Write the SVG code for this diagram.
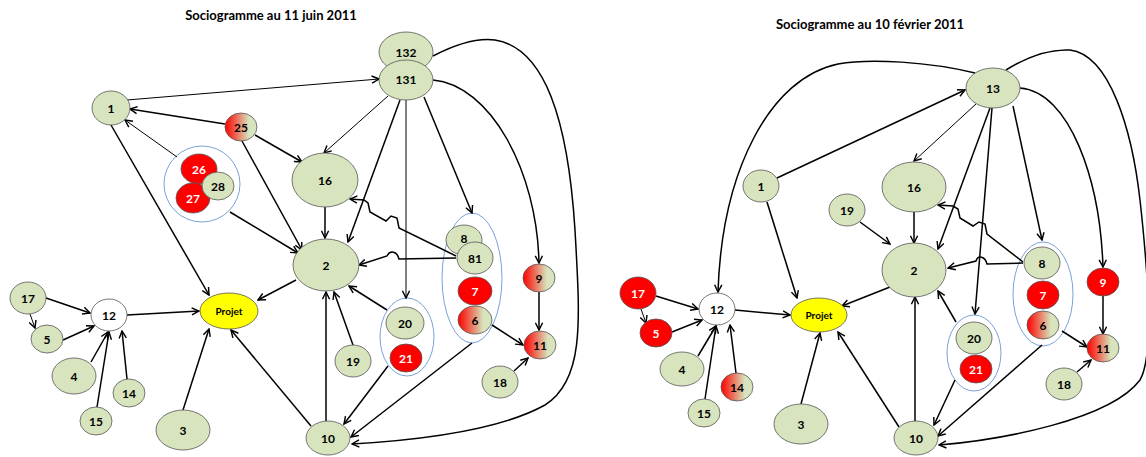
<svg xmlns="http://www.w3.org/2000/svg" width="1146" height="457" viewBox="0 0 1146 457">
<style>
.bg{fill:#fff}
.title{font-family:Lato,"Liberation Sans",sans-serif;font-weight:bold;font-size:13px;fill:#000;text-anchor:middle}
.nd{stroke:#555;stroke-width:0.8}
.gr{fill:#d7e4bd}
.rd{fill:#ff0000}
.gd{fill:url(#grad)}
.wh{fill:#fff}
.ye{fill:#ffff00}
.lb{font-family:Lato,"Liberation Sans",sans-serif;font-weight:bold;font-size:12px;fill:#000;text-anchor:middle;dominant-baseline:central}
.lw{fill:#fff}
.grp{fill:none;stroke:#6a96d4;stroke-width:0.9}
.e{fill:none;stroke:#000;stroke-width:1.5;marker-end:url(#arr)}
.t1{stroke-width:1}
</style>
<defs>
<linearGradient id="grad" x1="0" y1="0" x2="1" y2="0">
<stop offset="0" stop-color="#ff0000"/>
<stop offset="0.2" stop-color="#f43a2e"/>
<stop offset="0.75" stop-color="#d7e4bd"/>
<stop offset="1" stop-color="#d7e4bd"/>
</linearGradient>
<marker id="arr" viewBox="0 0 10 10" refX="9" refY="5" markerWidth="9" markerHeight="9" markerUnits="userSpaceOnUse" orient="auto">
<path d="M1,1 L9,5 L1,9" fill="none" stroke="#000" stroke-width="1.6"/>
</marker>
</defs>
<rect class="bg" x="0" y="0" width="1146" height="457"/>
<text class="title" x="271" y="20">Sociogramme au 11 juin 2011</text>
<text class="title" x="870" y="29">Sociogramme au 10 février 2011</text>

<g id="groups">
<circle class="grp" cx="202" cy="184" r="38"/>
<ellipse class="grp" cx="472" cy="278" rx="30" ry="65"/>
<ellipse class="grp" cx="407" cy="337" rx="27" ry="39"/>
<ellipse class="grp" cx="1043" cy="294" rx="30" ry="52"/>
<ellipse class="grp" cx="974" cy="353" rx="27" ry="38"/>
</g>

<g id="connectors">
<!-- left -->
<path class="e t1" d="M127,100 L379,79"/>
<path class="e" d="M225,124 L130,109"/>
<path class="e t1" d="M177,157 L125,120"/>
<path class="e" d="M111,125 L209,295"/>
<path class="e" d="M255,135 L302,162"/>
<path class="e" d="M242,141 L302,250"/>
<path class="e" d="M230,212 L298,253"/>
<path class="e t1" d="M388,96 L324,153"/>
<path class="e" d="M400,100 L348,242"/>
<path class="e t1" d="M406,100 L406,298"/>
<path class="e" d="M424,97 L472,213"/>
<path class="e" d="M433,80 C490,85 537,170 539,263"/>
<path class="e" d="M433,56 C460,42 480,38 495,40 C545,48 568,120 575,230 C580,320 585,380 545,405 C500,430 420,440 352,444"/>
<path class="e" d="M456,256 L399,228 L397,218 L391,216 L386,221 L370,212 L368,203 L364,200 L350,199"/>
<path class="e" d="M456,258 L399,259 C397,251 390,250 387,256 L359,265"/>
<path class="e" d="M325,207 L325,238"/>
<path class="e" d="M296,280 L258,300"/>
<path class="e" d="M353,345 L334,292"/>
<path class="e" d="M387,310 L349,286"/>
<path class="e" d="M326,421 L326,292"/>
<path class="e" d="M311,426 L231,330"/>
<path class="e" d="M388,366 L344,424"/>
<path class="e" d="M472,343 L351,437"/>
<path class="e" d="M492,325 L523,345"/>
<path class="e" d="M539,292 L539,330"/>
<path class="e" d="M514,371 L528,358"/>
<path class="e" d="M127,315 L199,311"/>
<path class="e" d="M46,298 L90,313"/>
<path class="e t1" d="M30,314 L35,328"/>
<path class="e" d="M63,340 L94,326"/>
<path class="e" d="M91,362 L108,332"/>
<path class="e" d="M97,407 L109,332"/>
<path class="e" d="M127,379 L122,331"/>
<path class="e" d="M183,410 L209,329"/>
<!-- right -->
<path class="e" d="M975,73 C930,62 870,58 838,64 C770,78 722,170 718,292"/>
<path class="e" d="M777,178 L965,90"/>
<path class="e t1" d="M976,104 L914,161"/>
<path class="e" d="M990,108 L938,249"/>
<path class="e" d="M992,108 L975,314"/>
<path class="e" d="M1013,106 L1042,240"/>
<path class="e" d="M1020,88 C1070,92 1100,180 1103,267"/>
<path class="e" d="M1006,70 C1030,55 1050,49 1070,50 C1110,55 1132,130 1140,200 C1150,290 1152,360 1140,380 C1110,420 1000,440 939,445"/>
<path class="e" d="M914,212 L914,243"/>
<path class="e" d="M1023,262 L987,234 L985,224 L979,222 L973,226 L960,218 L958,209 L953,206 L938,205"/>
<path class="e" d="M1023,263 L987,264 C985,256 978,255 976,261 L948,268"/>
<path class="e" d="M767,202 L797,298"/>
<path class="e" d="M860,222 L890,244"/>
<path class="e" d="M890,287 L842,306"/>
<path class="e" d="M956,322 L938,291"/>
<path class="e" d="M915,421 L915,297"/>
<path class="e" d="M899,427 L838,332"/>
<path class="e" d="M955,380 L934,425"/>
<path class="e" d="M1042,345 L938,436"/>
<path class="e" d="M1062,331 L1087,347"/>
<path class="e" d="M1103,296 L1103,334"/>
<path class="e" d="M1077,372 L1091,360"/>
<path class="e" d="M735,310 L790,315"/>
<path class="e" d="M656,296 L698,309"/>
<path class="e t1" d="M641,309 L646,323"/>
<path class="e" d="M672,332 L702,320"/>
<path class="e" d="M698,356 L716,326"/>
<path class="e" d="M705,399 L716,326"/>
<path class="e" d="M736,373 L730,325"/>
<path class="e" d="M801,404 L820,333"/>
</g>

<!-- left nodes -->
<g id="L1"><ellipse class="nd gr" cx="111" cy="108" rx="19" ry="17"/><text class="lb" x="111" y="108">1</text></g>
<g id="L25"><ellipse class="nd gd" cx="241" cy="127" rx="16" ry="14"/><text class="lb" x="241" y="127">25</text></g>
<g id="L26"><ellipse class="nd rd" cx="199" cy="169" rx="18" ry="15"/><text class="lb lw" x="199" y="169">26</text></g>
<g id="L27"><ellipse class="nd rd" cx="193" cy="198" rx="17" ry="15"/><text class="lb lw" x="193" y="198">27</text></g>
<g id="L28"><ellipse class="nd gr" cx="218" cy="186" rx="16" ry="14"/><text class="lb" x="218" y="186">28</text></g>
<g id="L132"><ellipse class="nd gr" cx="406" cy="52" rx="27" ry="20"/><text class="lb" x="406" y="52">132</text></g>
<g id="L131"><ellipse class="nd gr" cx="406" cy="80" rx="27" ry="20"/><text class="lb" x="406" y="79">131</text></g>
<g id="L16"><ellipse class="nd gr" cx="325" cy="180" rx="33" ry="27"/><text class="lb" x="325" y="180">16</text></g>
<g id="L2"><ellipse class="nd gr" cx="326" cy="265" rx="33" ry="26"/><text class="lb" x="326" y="265">2</text></g>
<g id="L8"><ellipse class="nd gr" cx="464" cy="240" rx="18" ry="15"/><text class="lb" x="464" y="238">8</text></g>
<g id="L81"><ellipse class="nd gr" cx="475" cy="258" rx="18" ry="16"/><text class="lb" x="475" y="258">81</text></g>
<g id="L7"><ellipse class="nd rd" cx="475" cy="291" rx="17" ry="14"/><text class="lb lw" x="475" y="291">7</text></g>
<g id="L6"><ellipse class="nd gd" cx="475" cy="320" rx="17" ry="14"/><text class="lb" x="475" y="320">6</text></g>
<g id="L9"><ellipse class="nd gd" cx="539" cy="278" rx="16" ry="14"/><text class="lb" x="539" y="278">9</text></g>
<g id="L11"><ellipse class="nd gd" cx="540" cy="345" rx="16" ry="14"/><text class="lb" x="540" y="345">11</text></g>
<g id="L18"><ellipse class="nd gr" cx="500" cy="382" rx="18" ry="16"/><text class="lb" x="500" y="382">18</text></g>
<g id="L20"><ellipse class="nd gr" cx="405" cy="323" rx="19" ry="16"/><text class="lb" x="405" y="323">20</text></g>
<g id="L21"><ellipse class="nd rd" cx="406" cy="358" rx="16" ry="14"/><text class="lb lw" x="406" y="358">21</text></g>
<g id="L19"><ellipse class="nd gr" cx="353" cy="361" rx="18" ry="16"/><text class="lb" x="353" y="361">19</text></g>
<g id="L10"><ellipse class="nd gr" cx="328" cy="438" rx="22" ry="17"/><text class="lb" x="328" y="438">10</text></g>
<g id="LProjet"><ellipse class="nd ye" cx="229" cy="311" rx="29" ry="18"/><text class="lb" x="229" y="311" style="font-size:10px">Projet</text></g>
<g id="L12"><ellipse class="nd wh" cx="109" cy="315" rx="18" ry="16"/><text class="lb" x="109" y="315">12</text></g>
<g id="L17"><ellipse class="nd gr" cx="28" cy="298" rx="18" ry="16"/><text class="lb" x="28" y="298">17</text></g>
<g id="L5"><ellipse class="nd gr" cx="47" cy="339" rx="16" ry="14"/><text class="lb" x="47" y="339">5</text></g>
<g id="L4"><ellipse class="nd gr" cx="74" cy="376" rx="22" ry="18"/><text class="lb" x="74" y="376">4</text></g>
<g id="L14"><ellipse class="nd gr" cx="129" cy="393" rx="16" ry="14"/><text class="lb" x="129" y="393">14</text></g>
<g id="L15"><ellipse class="nd gr" cx="96" cy="421" rx="16" ry="14"/><text class="lb" x="96" y="421">15</text></g>
<g id="L3"><ellipse class="nd gr" cx="183" cy="430" rx="27" ry="20"/><text class="lb" x="183" y="430">3</text></g>

<!-- right nodes -->
<g id="R13"><ellipse class="nd gr" cx="993" cy="88" rx="27" ry="20"/><text class="lb" x="993" y="88">13</text></g>
<g id="R16"><ellipse class="nd gr" cx="914" cy="187" rx="32" ry="25"/><text class="lb" x="914" y="187">16</text></g>
<g id="R1"><ellipse class="nd gr" cx="761" cy="186" rx="18" ry="16"/><text class="lb" x="761" y="186">1</text></g>
<g id="R19"><ellipse class="nd gr" cx="847" cy="210" rx="18" ry="16"/><text class="lb" x="847" y="210">19</text></g>
<g id="R2"><ellipse class="nd gr" cx="914" cy="270" rx="32" ry="27"/><text class="lb" x="914" y="270">2</text></g>
<g id="R8"><ellipse class="nd gr" cx="1042" cy="263" rx="18" ry="16"/><text class="lb" x="1042" y="263">8</text></g>
<g id="R7"><ellipse class="nd rd" cx="1043" cy="295" rx="16" ry="14"/><text class="lb lw" x="1043" y="295">7</text></g>
<g id="R6"><ellipse class="nd gd" cx="1043" cy="325" rx="16" ry="14"/><text class="lb" x="1043" y="325">6</text></g>
<g id="R9"><ellipse class="nd rd" cx="1103" cy="282" rx="16" ry="14"/><text class="lb lw" x="1103" y="282">9</text></g>
<g id="R11"><ellipse class="nd gd" cx="1103" cy="348" rx="16" ry="14"/><text class="lb" x="1103" y="348">11</text></g>
<g id="R18"><ellipse class="nd gr" cx="1064" cy="384" rx="18" ry="16"/><text class="lb" x="1064" y="384">18</text></g>
<g id="R20"><ellipse class="nd gr" cx="974" cy="338" rx="18" ry="16"/><text class="lb" x="974" y="338">20</text></g>
<g id="R21"><ellipse class="nd rd" cx="976" cy="369" rx="16" ry="14"/><text class="lb lw" x="976" y="369">21</text></g>
<g id="R10"><ellipse class="nd gr" cx="916" cy="438" rx="22" ry="17"/><text class="lb" x="916" y="438">10</text></g>
<g id="RProjet"><ellipse class="nd ye" cx="819" cy="315" rx="28" ry="17"/><text class="lb" x="819" y="315" style="font-size:10px">Projet</text></g>
<g id="R12"><ellipse class="nd wh" cx="717" cy="309" rx="18" ry="16"/><text class="lb" x="717" y="309">12</text></g>
<g id="R17"><ellipse class="nd rd" cx="638" cy="293" rx="18" ry="16"/><text class="lb lw" x="638" y="293">17</text></g>
<g id="R5"><ellipse class="nd rd" cx="656" cy="333" rx="16" ry="14"/><text class="lb lw" x="656" y="333">5</text></g>
<g id="R4"><ellipse class="nd gr" cx="682" cy="369" rx="22" ry="17"/><text class="lb" x="682" y="369">4</text></g>
<g id="R14"><ellipse class="nd gd" cx="737" cy="387" rx="16" ry="14"/><text class="lb" x="737" y="387">14</text></g>
<g id="R15"><ellipse class="nd gr" cx="704" cy="413" rx="16" ry="14"/><text class="lb" x="704" y="413">15</text></g>
<g id="R3"><ellipse class="nd gr" cx="801" cy="424" rx="27" ry="20"/><text class="lb" x="801" y="424">3</text></g>
</svg>
